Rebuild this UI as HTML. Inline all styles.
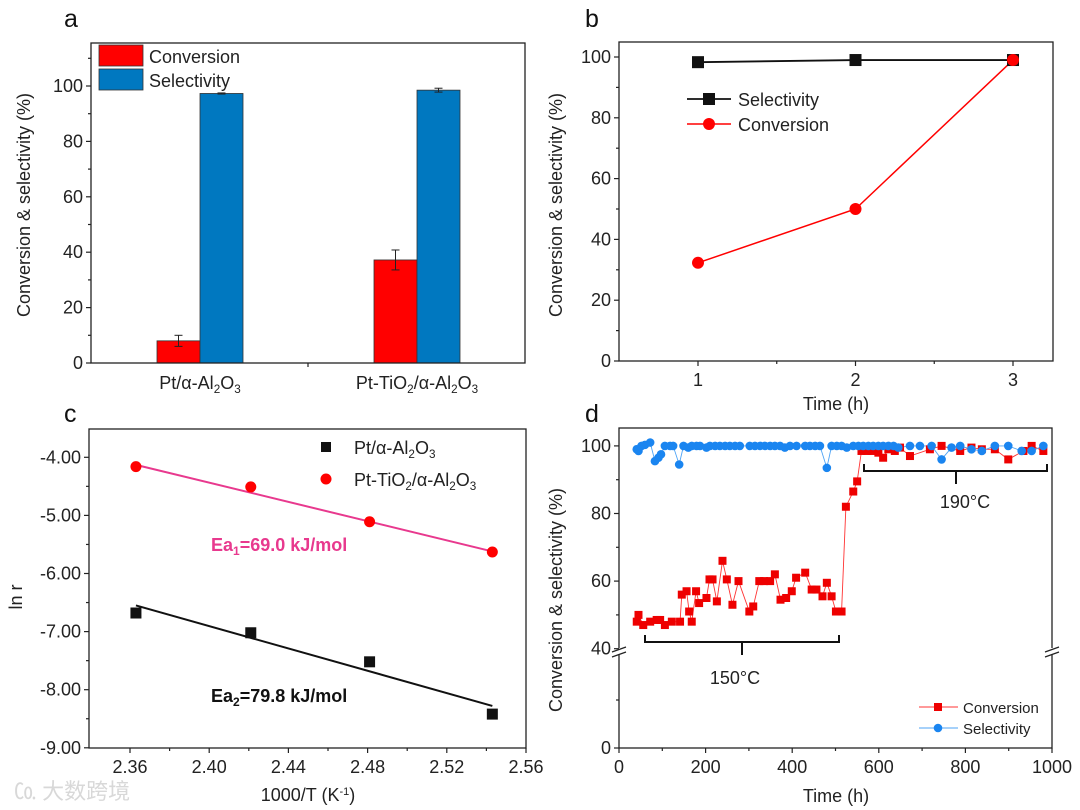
<!DOCTYPE html>
<html><head><meta charset="utf-8"><style>
html,body{margin:0;padding:0;background:#fff;}
svg{display:block;font-family:"Liberation Sans","Noto Sans CJK SC",sans-serif;}
</style></head><body>
<svg id="fig" width="1080" height="810" viewBox="0 0 1080 810" xmlns="http://www.w3.org/2000/svg">
<rect width="1080" height="810" fill="#fff"/>
<g id="ga"></g>
<g id="gb"></g>
<g id="gc"></g>
<g id="gd"></g>
<text x="14" y="799" font-size="22" fill="#d8d8d8">㏇ 大数跨境</text>
</svg>
<script>
// Panel a data
const aCategories = ["Pt/α-Al2O3", "Pt-TiO2/α-Al2O3"];
const aConversion = [8, 37.2];
const aConversionErr = [2, 3.6];
const aSelectivity = [97.3, 98.5];
const aSelectivityErr = [0.2, 0.7];
const aTicks = [0, 20, 40, 60, 80, 100];
// Panel b data
const bTime = [1, 2, 3];
const bSelectivity = [98.3, 99, 99];
const bConversion = [32.3, 50, 99];
const bTicksY = [0, 20, 40, 60, 80, 100];
const bTicksX = [1, 2, 3];
// Panel c data
const cX = [2.363, 2.421, 2.481, 2.543];
const cPt = [-6.68, -7.02, -7.52, -8.42];
const cPtTi = [-4.16, -4.51, -5.11, -5.63];
const cFitPt = [-6.55, -8.28];
const cFitPtTi = [-4.13, -5.62];
const cTicksY = [-4, -5, -6, -7, -8, -9];
const cTicksX = [2.36, 2.40, 2.44, 2.48, 2.52, 2.56];
// Panel d data
const dConvT = [41,45,56,72,87,95,106,122,141,145,156,162,168,178,185,202,209,216,226,239,249,262,276,301,310,324,335,349,360,373,386,399,409,430,445,456,470,480,491,501,514,524,541,550,560,572,583,599,610,622,637,649,672,718,745,788,814,838,868,899,934,953,980];
const dConv = [48,50,47,48,48.5,48.5,47,48,48,56,57,51,48,57,53.5,55,60.5,60.5,54,66,60.5,53,60,51,52.5,60,60,60,62,54.5,55,57,61,62.5,57.5,57.5,55.5,59.5,55.5,51,51,82,86.5,89.5,98.5,98.5,98.5,98,96.5,99,98.5,99.5,97,99,100,98.5,99.5,99,99,96,98.5,100,98.5];
const dSelT = [41,45,52,60,72,83,91,97,106,118,125,139,149,160,168,179,187,202,210,222,233,245,256,268,279,302,314,326,337,349,360,372,383,395,410,430,441,453,464,480,491,503,514,526,541,553,564,576,587,599,610,622,634,645,672,695,722,745,768,788,814,838,868,899,930,953,980];
const dSel = [99,98.5,100,100.3,101,95.5,96.5,97.5,100,100,100,94.5,100,99.5,100,100,100,99.5,100,100,100,100,100,100,100,100,100,100,100,100,100,100,99.5,100,100,100,100,100,100,93.5,100,100,100,99.5,100,100,100,100,100,100,100,100,100,99.5,100,100,100,96,99.5,100,99,98.5,100,100,98.5,98.5,100];
const dTicksX = [0,200,400,600,800,1000];
const dTicksY = [40,60,80,100];

const NS="http://www.w3.org/2000/svg";
function mk(parent,tag,attrs,text){const e=document.createElementNS(NS,tag);for(const k in attrs)e.setAttribute(k,attrs[k]);if(text!==undefined)e.textContent=text;parent.appendChild(e);return e;}
function frame(g,x0,y0,x1,y1){const r=mk(g,'rect',{x:x0,y:y0,width:x1-x0,height:y1-y0,fill:'none',stroke:'#222','stroke-width':1.3});

}
function tickY(g,x,y,label,len){mk(g,'line',{x1:x-len,x2:x,y1:y,y2:y,stroke:'#222','stroke-width':1.2});
if(label!==null){const t=mk(g,'text',{x:x-8,y:y+6,'font-size':18,'text-anchor':'end',fill:'#222'},label);

}}
function tickX(g,x,y,label,len){mk(g,'line',{x1:x,x2:x,y1:y,y2:y+len,stroke:'#222','stroke-width':1.2});
if(label!==null){const t=mk(g,'text',{x:x,y:y+25,'font-size':18,'text-anchor':'middle',fill:'#222'},label);

}}
function letter(g,x,y,s){const t=mk(g,'text',{x:x,y:y,'font-size':25,fill:'#111'},s);

}
function ytitle(g,x,y,s){const t=mk(g,'text',{x:x,y:y,'font-size':18,'text-anchor':'middle',fill:'#222',transform:`rotate(-90 ${x} ${y})`},s);

}
function chem(g,x,y,parts,anchor,size){const t=mk(g,'text',{x:x,y:y,'font-size':size||18,'text-anchor':anchor||'middle',fill:'#222'});
parts.forEach(p=>{if(typeof p==='string'){mk(t,'tspan',{},p);}else{mk(t,'tspan',{'baseline-shift':'-30%','font-size':(size||18)*0.65},p[0]);}});return t;}
function chemLabel(name){const m={"Pt/α-Al2O3":["Pt/α-Al",["2"],"O",["3"]],"Pt-TiO2/α-Al2O3":["Pt-TiO",["2"],"/α-Al",["2"],"O",["3"]]};return m[name];}

// ---------- Panel a ----------
(function(){
const g=document.getElementById('ga');
const X0=91,X1=525,Y0=43,Y1=363;
const ya=v=>363-v*2.77;
const centers=[200,417], bw=43;
letter(g,64,27,'a');
aCategories.forEach((c,i)=>{
 const cx=centers[i];
 const r1=mk(g,'rect',{x:cx-bw,y:ya(aConversion[i]),width:bw,height:Y1-ya(aConversion[i]),fill:'#ff0000',stroke:'#333','stroke-width':0.8});
 
 
 const r2=mk(g,'rect',{x:cx,y:ya(aSelectivity[i]),width:bw,height:Y1-ya(aSelectivity[i]),fill:'#0078c0',stroke:'#333','stroke-width':0.8});
 
 
 [[cx-bw/2,aConversion[i],aConversionErr[i]],[cx+bw/2,aSelectivity[i],aSelectivityErr[i]]].forEach(([ex,v,e])=>{
  mk(g,'line',{x1:ex,x2:ex,y1:ya(v+e),y2:ya(v-e),stroke:'#222','stroke-width':1});
  mk(g,'line',{x1:ex-4,x2:ex+4,y1:ya(v+e),y2:ya(v+e),stroke:'#222','stroke-width':1});
  mk(g,'line',{x1:ex-4,x2:ex+4,y1:ya(v-e),y2:ya(v-e),stroke:'#222','stroke-width':1});
 });
 const t=chem(g,cx,389,chemLabel(c));
 
 
});
frame(g,X0,Y0,X1,Y1);
aTicks.forEach(v=>tickY(g,X0,ya(v),String(v),5));
[10,30,50,70,90,110].forEach(v=>tickY(g,X0,ya(v),null,3));
tickX(g,308,Y1,null,4);
ytitle(g,30,205,'Conversion & selectivity (%)');
const l1=mk(g,'rect',{x:99,y:45,width:44,height:21,fill:'#ff0000',stroke:'#333','stroke-width':0.8});


const l2=mk(g,'rect',{x:99,y:69,width:44,height:21,fill:'#0078c0',stroke:'#333','stroke-width':0.8});


const t1=mk(g,'text',{x:149,y:63,'font-size':18,fill:'#222'},'Conversion');


const t2=mk(g,'text',{x:149,y:87,'font-size':18,fill:'#222'},'Selectivity');


})();

// ---------- Panel b ----------
(function(){
const g=document.getElementById('gb');
const X0=619,X1=1053,Y0=42,Y1=361;
const xb=v=>698+(v-1)*157.5, yb=v=>361-v*3.04;
letter(g,585,27,'b');
frame(g,X0,Y0,X1,Y1);
bTicksY.forEach(v=>tickY(g,X0,yb(v),String(v),5));
[10,30,50,70,90].forEach(v=>tickY(g,X0,yb(v),null,3));
bTicksX.forEach(v=>tickX(g,xb(v),Y1,String(v),5));
[1.5,2.5].forEach(v=>tickX(g,xb(v),Y1,null,3));
ytitle(g,562,205,'Conversion & selectivity (%)');
const tt=mk(g,'text',{x:836,y:410,'font-size':18,'text-anchor':'middle',fill:'#222'},'Time (h)');


const ps=mk(g,'polyline',{points:bTime.map((t,i)=>xb(t)+','+yb(bSelectivity[i])).join(' '),fill:'none',stroke:'#111','stroke-width':1.8});


const pc=mk(g,'polyline',{points:bTime.map((t,i)=>xb(t)+','+yb(bConversion[i])).join(' '),fill:'none',stroke:'#ff0000','stroke-width':1.5});


bTime.forEach((t,i)=>{
 const s=mk(g,'rect',{x:xb(t)-6,y:yb(bSelectivity[i])-6,width:12,height:12,fill:'#111'});
 
 
 const c=mk(g,'circle',{cx:xb(t),cy:yb(bConversion[i]),r:6,fill:'#ff0000'});
 
 
});
mk(g,'line',{x1:687,x2:731,y1:99,y2:99,stroke:'#111','stroke-width':1.8});
mk(g,'rect',{x:703,y:93,width:12,height:12,fill:'#111'});
mk(g,'line',{x1:687,x2:731,y1:124,y2:124,stroke:'#ff0000','stroke-width':1.5});
mk(g,'circle',{cx:709,cy:124,r:6,fill:'#ff0000'});
const t1=mk(g,'text',{x:738,y:106,'font-size':18,fill:'#222'},'Selectivity');


const t2=mk(g,'text',{x:738,y:131,'font-size':18,fill:'#222'},'Conversion');


})();

// ---------- Panel c ----------
(function(){
const g=document.getElementById('gc');
const X0=89,X1=526,Y0=429,Y1=748;
const xc=v=>130+(v-2.36)*1980, yc=v=>457.3-(v+4)*58.1;
letter(g,64,422,'c');
frame(g,X0,Y0,X1,Y1);
cTicksY.forEach(v=>tickY(g,X0,yc(v),v.toFixed(2),5));
[-4.5,-5.5,-6.5,-7.5,-8.5].forEach(v=>tickY(g,X0,yc(v),null,3));
cTicksX.forEach(v=>tickX(g,xc(v),Y1,v.toFixed(2),5));
[2.38,2.42,2.46,2.50,2.54].forEach(v=>tickX(g,xc(v),Y1,null,3));
ytitle(g,22,597,'ln r');
const xt=mk(g,'text',{x:308,y:801,'font-size':18,'text-anchor':'middle',fill:'#222'});
mk(xt,'tspan',{},'1000/T (K');mk(xt,'tspan',{'baseline-shift':'super','font-size':11},'-1');mk(xt,'tspan',{},')');


const f1=mk(g,'line',{x1:xc(cX[0]),y1:yc(cFitPtTi[0]),x2:xc(cX[3]),y2:yc(cFitPtTi[1]),stroke:'#e8398e','stroke-width':2});


const f2=mk(g,'line',{x1:xc(cX[0]),y1:yc(cFitPt[0]),x2:xc(cX[3]),y2:yc(cFitPt[1]),stroke:'#111','stroke-width':2});


cX.forEach((x,i)=>{
 const s=mk(g,'rect',{x:xc(x)-5.5,y:yc(cPt[i])-5.5,width:11,height:11,fill:'#111'});
 
 
 const c=mk(g,'circle',{cx:xc(x),cy:yc(cPtTi[i]),r:5.5,fill:'#ff0000'});
 
 
});
mk(g,'rect',{x:321,y:442,width:10,height:10,fill:'#111'});
mk(g,'circle',{cx:326,cy:479,r:5.5,fill:'#ff0000'});
const l1=chem(g,354,454,["Pt/α-Al",["2"],"O",["3"]],'start');


const l2=chem(g,354,486,["Pt-TiO",["2"],"/α-Al",["2"],"O",["3"]],'start');


const e1=mk(g,'text',{x:211,y:551,'font-size':18,'font-weight':'bold',fill:'#e8398e'});
mk(e1,'tspan',{},'Ea');mk(e1,'tspan',{'baseline-shift':'-30%','font-size':12},'1');mk(e1,'tspan',{},'=69.0  kJ/mol');


const e2=mk(g,'text',{x:211,y:702,'font-size':18,'font-weight':'bold',fill:'#111'});
mk(e2,'tspan',{},'Ea');mk(e2,'tspan',{'baseline-shift':'-30%','font-size':12},'2');mk(e2,'tspan',{},'=79.8  kJ/mol');


})();

// ---------- Panel d ----------
(function(){
const g=document.getElementById('gd');
const X0=619,X1=1052,Y0=428,Y1=748;
const xd=v=>619+v*0.433;
const yd=v=>v>=40?648.7-(v-40)*3.38:748-v*2.4;
letter(g,585,422,'d');
frame(g,X0,Y0,X1,Y1);
[[X0,652],[X1,652]].forEach(([bx,by])=>{
 mk(g,'rect',{x:bx-6,y:by-4,width:12,height:7,fill:'#fff'});
 mk(g,'line',{x1:bx-7,y1:by,x2:bx+7,y2:by-5,stroke:'#222','stroke-width':1.2});
 mk(g,'line',{x1:bx-7,y1:by+5,x2:bx+7,y2:by,stroke:'#222','stroke-width':1.2});
});
dTicksY.forEach(v=>tickY(g,X0,yd(v),String(v),5));
[50,70,90].forEach(v=>tickY(g,X0,yd(v),null,3));
tickY(g,X0,yd(0),'0',5);tickY(g,X0,yd(20),null,3);
dTicksX.forEach(v=>tickX(g,xd(v),Y1,String(v),5));
[100,300,500,700,900].forEach(v=>tickX(g,xd(v),Y1,null,3));
ytitle(g,562,600,'Conversion & selectivity (%)');
const tt=mk(g,'text',{x:836,y:802,'font-size':18,'text-anchor':'middle',fill:'#222'},'Time (h)');


const pc=mk(g,'polyline',{points:dConvT.map((t,i)=>xd(t)+','+yd(dConv[i])).join(' '),fill:'none',stroke:'#ff3333','stroke-width':0.9});


const ps=mk(g,'polyline',{points:dSelT.map((t,i)=>xd(t)+','+yd(dSel[i])).join(' '),fill:'none',stroke:'#4da3f5','stroke-width':0.9});


dConvT.forEach((t,i)=>{
 const s=mk(g,'rect',{x:xd(t)-4,y:yd(dConv[i])-4,width:8,height:8,fill:'#ee0000'});
 
 
});
dSelT.forEach((t,i)=>{
 const c=mk(g,'circle',{cx:xd(t),cy:yd(dSel[i]),r:4.3,fill:'#1a85f0'});
 
 
});
const b1=mk(g,'path',{d:'M645,635 V642 H839 V635 M742,642 V655',fill:'none',stroke:'#111','stroke-width':2});


const b2=mk(g,'path',{d:'M864,464 V471 H1047 V464 M956,471 V484',fill:'none',stroke:'#111','stroke-width':2});


const t150=mk(g,'text',{x:735,y:684,'font-size':18,'text-anchor':'middle',fill:'#222'},'150°C');


const t190=mk(g,'text',{x:965,y:508,'font-size':18,'text-anchor':'middle',fill:'#222'},'190°C');


mk(g,'line',{x1:919,x2:958,y1:707,y2:707,stroke:'#ff3333','stroke-width':1});
mk(g,'rect',{x:934,y:703,width:8,height:8,fill:'#ee0000'});
mk(g,'line',{x1:919,x2:958,y1:728,y2:728,stroke:'#4da3f5','stroke-width':1});
mk(g,'circle',{cx:938,cy:728,r:4.3,fill:'#1a85f0'});
const l1=mk(g,'text',{x:963,y:713,'font-size':15,fill:'#222'},'Conversion');


const l2=mk(g,'text',{x:963,y:734,'font-size':15,fill:'#222'},'Selectivity');


})();
</script>
</body></html>
